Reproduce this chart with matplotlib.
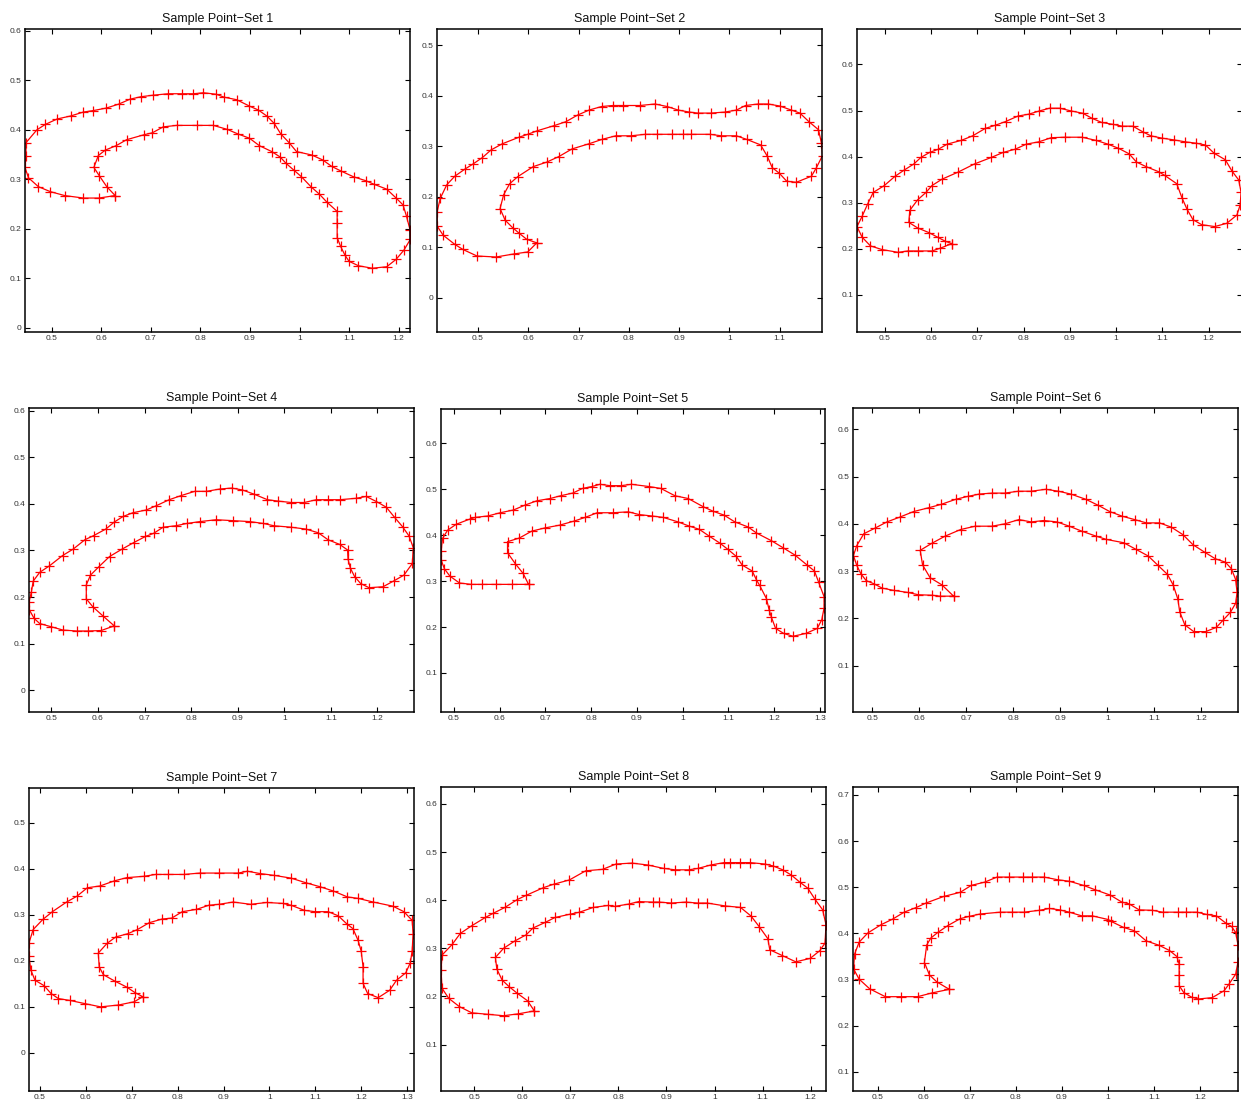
import numpy as np
import matplotlib
matplotlib.use("Agg")
import matplotlib.pyplot as plt
from matplotlib.ticker import FuncFormatter, MultipleLocator

plt.rcParams['font.family'] = ['Liberation Sans', 'DejaVu Sans']

titles = [f"Sample Point\u2212Set {i}" for i in range(1, 10)]

s1_x = [0.628, 0.595, 0.564, 0.526, 0.497, 0.473, 0.453, 0.446, 0.448, 0.448, 0.470, 0.487, 0.511, 0.538, 0.564, 0.584, 0.610, 0.635, 0.658, 0.680, 0.704, 0.735, 0.762, 0.786, 0.806, 0.832, 0.848, 0.873, 0.899, 0.917, 0.934, 0.949, 0.962, 0.979, 0.994, 1.025, 1.047, 1.065, 1.083, 1.109, 1.134, 1.150, 1.176, 1.195, 1.209, 1.216, 1.223, 1.224, 1.211, 1.195, 1.176, 1.147, 1.119, 1.100, 1.092, 1.083, 1.076, 1.076, 1.076, 1.055, 1.040, 1.023, 1.004, 0.988, 0.973, 0.961, 0.944, 0.919, 0.899, 0.875, 0.854, 0.826, 0.793, 0.752, 0.725, 0.703, 0.686, 0.651, 0.630, 0.608, 0.594, 0.585, 0.596, 0.611]
s1_y = [0.267, 0.262, 0.262, 0.267, 0.275, 0.285, 0.303, 0.324, 0.347, 0.374, 0.400, 0.411, 0.422, 0.428, 0.436, 0.439, 0.444, 0.452, 0.462, 0.467, 0.470, 0.473, 0.473, 0.473, 0.475, 0.472, 0.466, 0.461, 0.448, 0.440, 0.428, 0.413, 0.392, 0.374, 0.356, 0.349, 0.339, 0.326, 0.317, 0.305, 0.297, 0.290, 0.280, 0.262, 0.248, 0.225, 0.198, 0.179, 0.157, 0.138, 0.123, 0.120, 0.125, 0.134, 0.146, 0.164, 0.182, 0.211, 0.235, 0.254, 0.270, 0.285, 0.305, 0.319, 0.332, 0.345, 0.356, 0.368, 0.383, 0.392, 0.401, 0.409, 0.409, 0.409, 0.406, 0.394, 0.390, 0.380, 0.368, 0.359, 0.348, 0.324, 0.307, 0.285]

s2_x = [0.617, 0.599, 0.571, 0.536, 0.498, 0.470, 0.454, 0.431, 0.419, 0.419, 0.425, 0.438, 0.454, 0.474, 0.490, 0.509, 0.526, 0.548, 0.581, 0.599, 0.618, 0.651, 0.675, 0.698, 0.721, 0.746, 0.768, 0.789, 0.822, 0.852, 0.876, 0.898, 0.920, 0.937, 0.963, 0.991, 1.014, 1.032, 1.057, 1.077, 1.100, 1.123, 1.140, 1.158, 1.177, 1.183, 1.185, 1.173, 1.163, 1.133, 1.114, 1.099, 1.085, 1.075, 1.062, 1.034, 1.014, 0.984, 0.961, 0.923, 0.908, 0.885, 0.855, 0.833, 0.804, 0.774, 0.747, 0.720, 0.687, 0.661, 0.637, 0.610, 0.579, 0.563, 0.551, 0.544, 0.554, 0.569, 0.582, 0.597]
s2_y = [0.109, 0.091, 0.087, 0.081, 0.083, 0.096, 0.106, 0.124, 0.142, 0.171, 0.197, 0.224, 0.241, 0.255, 0.265, 0.278, 0.293, 0.305, 0.318, 0.324, 0.331, 0.341, 0.349, 0.362, 0.372, 0.379, 0.381, 0.381, 0.381, 0.384, 0.379, 0.372, 0.368, 0.366, 0.366, 0.368, 0.372, 0.381, 0.384, 0.384, 0.380, 0.372, 0.366, 0.349, 0.333, 0.306, 0.282, 0.258, 0.241, 0.229, 0.231, 0.247, 0.258, 0.281, 0.303, 0.314, 0.321, 0.321, 0.324, 0.324, 0.324, 0.324, 0.324, 0.324, 0.321, 0.321, 0.314, 0.305, 0.295, 0.280, 0.269, 0.260, 0.240, 0.226, 0.204, 0.177, 0.154, 0.139, 0.128, 0.116]

s3_x = [0.645, 0.620, 0.602, 0.571, 0.550, 0.529, 0.494, 0.469, 0.451, 0.440, 0.451, 0.463, 0.475, 0.499, 0.522, 0.541, 0.563, 0.578, 0.597, 0.616, 0.635, 0.665, 0.690, 0.717, 0.739, 0.761, 0.788, 0.811, 0.834, 0.856, 0.878, 0.903, 0.928, 0.948, 0.969, 0.993, 1.013, 1.036, 1.057, 1.075, 1.099, 1.126, 1.149, 1.173, 1.193, 1.212, 1.236, 1.250, 1.265, 1.270, 1.268, 1.261, 1.239, 1.213, 1.185, 1.166, 1.153, 1.142, 1.131, 1.105, 1.092, 1.065, 1.044, 1.028, 1.005, 0.982, 0.957, 0.926, 0.889, 0.860, 0.833, 0.806, 0.782, 0.756, 0.730, 0.694, 0.658, 0.624, 0.602, 0.589, 0.571, 0.554, 0.552, 0.571, 0.595, 0.614, 0.631]
s3_y = [0.211, 0.201, 0.195, 0.195, 0.195, 0.192, 0.198, 0.206, 0.225, 0.248, 0.270, 0.297, 0.322, 0.337, 0.357, 0.370, 0.384, 0.398, 0.409, 0.416, 0.427, 0.435, 0.445, 0.461, 0.468, 0.476, 0.488, 0.492, 0.499, 0.505, 0.505, 0.499, 0.494, 0.483, 0.474, 0.470, 0.466, 0.466, 0.454, 0.445, 0.440, 0.436, 0.432, 0.429, 0.425, 0.407, 0.393, 0.369, 0.349, 0.322, 0.295, 0.273, 0.255, 0.248, 0.252, 0.263, 0.286, 0.311, 0.341, 0.359, 0.367, 0.378, 0.388, 0.406, 0.418, 0.427, 0.435, 0.442, 0.442, 0.441, 0.432, 0.427, 0.416, 0.409, 0.398, 0.384, 0.366, 0.351, 0.337, 0.322, 0.306, 0.283, 0.257, 0.245, 0.235, 0.225, 0.216]

s4_x = [0.635, 0.607, 0.579, 0.554, 0.525, 0.500, 0.475, 0.463, 0.453, 0.452, 0.457, 0.461, 0.475, 0.496, 0.524, 0.547, 0.572, 0.591, 0.617, 0.635, 0.654, 0.675, 0.704, 0.725, 0.753, 0.779, 0.808, 0.833, 0.862, 0.887, 0.910, 0.935, 0.964, 0.987, 1.015, 1.043, 1.069, 1.093, 1.119, 1.154, 1.176, 1.198, 1.219, 1.237, 1.254, 1.268, 1.277, 1.275, 1.257, 1.236, 1.212, 1.182, 1.164, 1.151, 1.142, 1.137, 1.136, 1.119, 1.094, 1.073, 1.046, 1.014, 0.978, 0.955, 0.926, 0.890, 0.854, 0.819, 0.791, 0.767, 0.740, 0.720, 0.702, 0.677, 0.652, 0.625, 0.602, 0.584, 0.575, 0.575, 0.589, 0.610]
s4_y = [0.138, 0.128, 0.127, 0.127, 0.129, 0.136, 0.143, 0.154, 0.172, 0.190, 0.210, 0.234, 0.253, 0.267, 0.289, 0.303, 0.323, 0.332, 0.346, 0.361, 0.373, 0.381, 0.387, 0.396, 0.409, 0.418, 0.427, 0.427, 0.432, 0.434, 0.430, 0.421, 0.409, 0.406, 0.403, 0.403, 0.409, 0.409, 0.409, 0.412, 0.416, 0.405, 0.393, 0.371, 0.351, 0.331, 0.306, 0.272, 0.247, 0.235, 0.222, 0.220, 0.229, 0.244, 0.262, 0.281, 0.301, 0.313, 0.323, 0.338, 0.346, 0.350, 0.353, 0.358, 0.362, 0.364, 0.366, 0.362, 0.358, 0.353, 0.350, 0.337, 0.330, 0.317, 0.303, 0.287, 0.265, 0.247, 0.226, 0.196, 0.179, 0.160]

s5_x = [0.663, 0.627, 0.592, 0.561, 0.538, 0.512, 0.491, 0.479, 0.472, 0.472, 0.475, 0.486, 0.505, 0.534, 0.547, 0.574, 0.601, 0.630, 0.656, 0.681, 0.710, 0.733, 0.760, 0.781, 0.801, 0.819, 0.841, 0.865, 0.888, 0.927, 0.952, 0.983, 1.012, 1.045, 1.067, 1.090, 1.114, 1.143, 1.161, 1.194, 1.219, 1.245, 1.272, 1.288, 1.297, 1.309, 1.309, 1.304, 1.294, 1.269, 1.241, 1.221, 1.203, 1.194, 1.189, 1.183, 1.168, 1.161, 1.152, 1.130, 1.117, 1.099, 1.081, 1.058, 1.036, 1.014, 0.990, 0.957, 0.932, 0.905, 0.881, 0.847, 0.813, 0.787, 0.763, 0.731, 0.699, 0.670, 0.643, 0.617, 0.617, 0.634, 0.651]
s5_y = [0.293, 0.293, 0.293, 0.293, 0.293, 0.296, 0.311, 0.327, 0.346, 0.366, 0.393, 0.411, 0.424, 0.435, 0.439, 0.442, 0.449, 0.455, 0.466, 0.475, 0.480, 0.486, 0.492, 0.502, 0.506, 0.511, 0.508, 0.508, 0.511, 0.506, 0.502, 0.486, 0.480, 0.462, 0.452, 0.444, 0.429, 0.418, 0.405, 0.388, 0.373, 0.357, 0.335, 0.322, 0.298, 0.266, 0.242, 0.216, 0.197, 0.186, 0.180, 0.186, 0.197, 0.221, 0.237, 0.262, 0.291, 0.303, 0.322, 0.335, 0.354, 0.369, 0.383, 0.398, 0.413, 0.420, 0.429, 0.439, 0.442, 0.445, 0.451, 0.449, 0.449, 0.439, 0.431, 0.422, 0.416, 0.409, 0.394, 0.386, 0.362, 0.338, 0.317]

s6_x = [0.673, 0.644, 0.627, 0.598, 0.575, 0.547, 0.521, 0.504, 0.487, 0.476, 0.467, 0.460, 0.467, 0.482, 0.506, 0.531, 0.558, 0.588, 0.620, 0.646, 0.678, 0.703, 0.728, 0.755, 0.782, 0.811, 0.838, 0.869, 0.896, 0.922, 0.954, 0.981, 1.005, 1.032, 1.058, 1.083, 1.111, 1.136, 1.161, 1.182, 1.207, 1.230, 1.251, 1.264, 1.273, 1.276, 1.273, 1.262, 1.247, 1.232, 1.209, 1.184, 1.165, 1.154, 1.150, 1.140, 1.128, 1.108, 1.087, 1.061, 1.035, 0.998, 0.976, 0.947, 0.919, 0.893, 0.865, 0.838, 0.812, 0.782, 0.755, 0.719, 0.688, 0.655, 0.627, 0.602, 0.607, 0.623, 0.648]
s6_y = [0.247, 0.247, 0.249, 0.250, 0.255, 0.259, 0.264, 0.273, 0.280, 0.294, 0.312, 0.333, 0.354, 0.379, 0.391, 0.404, 0.414, 0.426, 0.434, 0.441, 0.452, 0.458, 0.463, 0.465, 0.465, 0.469, 0.469, 0.473, 0.469, 0.463, 0.452, 0.439, 0.426, 0.416, 0.409, 0.402, 0.402, 0.393, 0.377, 0.356, 0.340, 0.326, 0.319, 0.305, 0.282, 0.255, 0.232, 0.213, 0.197, 0.181, 0.172, 0.172, 0.186, 0.214, 0.241, 0.271, 0.293, 0.312, 0.332, 0.346, 0.360, 0.367, 0.374, 0.384, 0.395, 0.404, 0.407, 0.404, 0.409, 0.400, 0.395, 0.395, 0.388, 0.374, 0.359, 0.344, 0.313, 0.286, 0.271]

s7_x = [0.724, 0.705, 0.671, 0.632, 0.598, 0.565, 0.540, 0.524, 0.509, 0.489, 0.480, 0.476, 0.476, 0.485, 0.506, 0.527, 0.558, 0.581, 0.603, 0.631, 0.662, 0.689, 0.727, 0.752, 0.779, 0.814, 0.848, 0.890, 0.932, 0.952, 0.979, 1.010, 1.047, 1.079, 1.111, 1.139, 1.170, 1.193, 1.226, 1.269, 1.293, 1.311, 1.313, 1.311, 1.307, 1.297, 1.277, 1.262, 1.237, 1.214, 1.204, 1.204, 1.200, 1.193, 1.182, 1.168, 1.150, 1.128, 1.099, 1.076, 1.047, 1.029, 0.994, 0.959, 0.921, 0.890, 0.868, 0.841, 0.810, 0.787, 0.766, 0.738, 0.712, 0.691, 0.665, 0.646, 0.627, 0.629, 0.638, 0.663, 0.689, 0.707]
s7_y = [0.122, 0.111, 0.104, 0.100, 0.107, 0.114, 0.118, 0.129, 0.146, 0.158, 0.180, 0.210, 0.239, 0.268, 0.290, 0.307, 0.328, 0.341, 0.359, 0.363, 0.374, 0.381, 0.384, 0.388, 0.388, 0.388, 0.391, 0.391, 0.391, 0.395, 0.390, 0.386, 0.380, 0.370, 0.361, 0.352, 0.339, 0.336, 0.328, 0.319, 0.307, 0.288, 0.259, 0.222, 0.196, 0.174, 0.158, 0.136, 0.120, 0.129, 0.151, 0.187, 0.221, 0.245, 0.270, 0.281, 0.298, 0.307, 0.307, 0.310, 0.321, 0.325, 0.327, 0.323, 0.328, 0.323, 0.321, 0.312, 0.307, 0.293, 0.291, 0.283, 0.268, 0.259, 0.252, 0.238, 0.217, 0.187, 0.170, 0.156, 0.143, 0.131]

s8_x = [0.625, 0.592, 0.561, 0.528, 0.495, 0.469, 0.447, 0.433, 0.431, 0.433, 0.454, 0.471, 0.495, 0.523, 0.540, 0.564, 0.589, 0.608, 0.644, 0.665, 0.698, 0.732, 0.767, 0.795, 0.828, 0.861, 0.894, 0.918, 0.946, 0.966, 0.992, 1.020, 1.032, 1.052, 1.074, 1.105, 1.122, 1.142, 1.160, 1.178, 1.194, 1.209, 1.225, 1.232, 1.230, 1.219, 1.199, 1.169, 1.141, 1.115, 1.111, 1.093, 1.076, 1.054, 1.022, 0.985, 0.965, 0.940, 0.910, 0.885, 0.871, 0.842, 0.822, 0.792, 0.779, 0.748, 0.719, 0.700, 0.668, 0.648, 0.622, 0.608, 0.584, 0.561, 0.544, 0.547, 0.558, 0.573, 0.589, 0.611]
s8_y = [0.170, 0.164, 0.160, 0.163, 0.166, 0.179, 0.196, 0.217, 0.254, 0.286, 0.308, 0.331, 0.347, 0.364, 0.373, 0.385, 0.401, 0.410, 0.426, 0.433, 0.442, 0.461, 0.464, 0.475, 0.477, 0.473, 0.466, 0.463, 0.463, 0.466, 0.473, 0.478, 0.478, 0.478, 0.478, 0.475, 0.471, 0.463, 0.452, 0.437, 0.425, 0.402, 0.380, 0.349, 0.311, 0.295, 0.279, 0.272, 0.285, 0.297, 0.320, 0.345, 0.367, 0.385, 0.388, 0.394, 0.394, 0.396, 0.394, 0.396, 0.396, 0.397, 0.392, 0.387, 0.389, 0.385, 0.375, 0.371, 0.364, 0.354, 0.342, 0.328, 0.315, 0.300, 0.281, 0.257, 0.234, 0.220, 0.207, 0.191]

s9_x = [0.655, 0.617, 0.586, 0.551, 0.516, 0.482, 0.459, 0.447, 0.449, 0.459, 0.478, 0.507, 0.532, 0.557, 0.583, 0.605, 0.643, 0.679, 0.703, 0.732, 0.759, 0.786, 0.816, 0.836, 0.861, 0.892, 0.916, 0.947, 0.971, 1.005, 1.030, 1.046, 1.068, 1.097, 1.119, 1.153, 1.170, 1.194, 1.215, 1.236, 1.257, 1.269, 1.278, 1.283, 1.283, 1.278, 1.264, 1.253, 1.227, 1.197, 1.182, 1.165, 1.155, 1.155, 1.155, 1.150, 1.134, 1.112, 1.083, 1.057, 1.034, 1.007, 1.001, 0.966, 0.943, 0.916, 0.895, 0.873, 0.851, 0.818, 0.791, 0.766, 0.722, 0.699, 0.679, 0.652, 0.630, 0.615, 0.606, 0.601, 0.612, 0.628]
s9_y = [0.279, 0.271, 0.263, 0.263, 0.263, 0.280, 0.301, 0.323, 0.355, 0.381, 0.401, 0.419, 0.431, 0.446, 0.456, 0.466, 0.480, 0.489, 0.504, 0.511, 0.522, 0.522, 0.522, 0.522, 0.522, 0.516, 0.513, 0.504, 0.495, 0.483, 0.468, 0.464, 0.451, 0.450, 0.446, 0.446, 0.446, 0.446, 0.441, 0.438, 0.422, 0.415, 0.402, 0.375, 0.339, 0.312, 0.291, 0.276, 0.261, 0.258, 0.262, 0.272, 0.287, 0.310, 0.334, 0.350, 0.363, 0.374, 0.384, 0.406, 0.413, 0.426, 0.430, 0.438, 0.438, 0.446, 0.451, 0.454, 0.450, 0.446, 0.446, 0.446, 0.442, 0.437, 0.432, 0.417, 0.402, 0.390, 0.375, 0.337, 0.310, 0.295]

sets_x = [s1_x, s2_x, s3_x, s4_x, s5_x, s6_x, s7_x, s8_x, s9_x]
sets_y = [s1_y, s2_y, s3_y, s4_y, s5_y, s6_y, s7_y, s8_y, s9_y]

x_limits = [(0.446, 1.223), (0.4186, 1.184), (0.440, 1.272), (0.452, 1.2786), (0.4716, 1.311),
            (0.459, 1.278), (0.476, 1.315), (0.4308, 1.232), (0.4457, 1.283)]
y_limits = [(-0.009, 0.604), (-0.0675, 0.5325), (0.019, 0.677), (-0.047, 0.606), (0.015, 0.675),
            (0.002, 0.645), (-0.083, 0.576), (0.0037, 0.635), (0.0588, 0.717)]

# axes boxes in pixels: left, right, top, bottom
boxes = [(25, 410, 29, 332), (437, 822, 29, 332), (857, 1242, 29, 332),
         (29, 414, 408, 712), (441, 825, 409, 712), (853, 1238, 408, 712),
         (29, 414, 788, 1091), (441, 826, 787, 1091), (853, 1238, 787, 1091)]

W, H = 1241, 1106
fig = plt.figure(figsize=(W / 100, H / 100), dpi=100)
fig.patch.set_facecolor('white')

fmt = FuncFormatter(lambda v, p: f"{round(v, 3):g}" if abs(v) > 1e-9 else "0")

for i in range(9):
    l, r, t, b = boxes[i]
    ax = fig.add_axes([l / W, 1 - b / H, (r - l) / W, (b - t) / H])
    xs = np.append(sets_x[i], sets_x[i][0])
    ys = np.append(sets_y[i], sets_y[i][0])
    ax.plot(xs, ys, color='#ff0000', linewidth=0.9, marker='+', markersize=7,
            markeredgewidth=0.9, markeredgecolor='#ff0000')
    ax.set_xlim(*x_limits[i])
    ax.set_ylim(*y_limits[i])
    ax.xaxis.set_major_locator(MultipleLocator(0.1))
    ax.yaxis.set_major_locator(MultipleLocator(0.1))
    ax.xaxis.set_major_formatter(fmt)
    ax.yaxis.set_major_formatter(fmt)
    ax.tick_params(direction='in', length=3.5, width=0.8, top=True, right=True,
                   labelsize=6, labelcolor='#333333', pad=2.5)
    for s in ax.spines.values():
        s.set_linewidth(1.1)
        s.set_color('black')
    ax.set_title(titles[i], fontsize=9, pad=5, color='#111111')

fig.savefig('out.png', dpi=100)
